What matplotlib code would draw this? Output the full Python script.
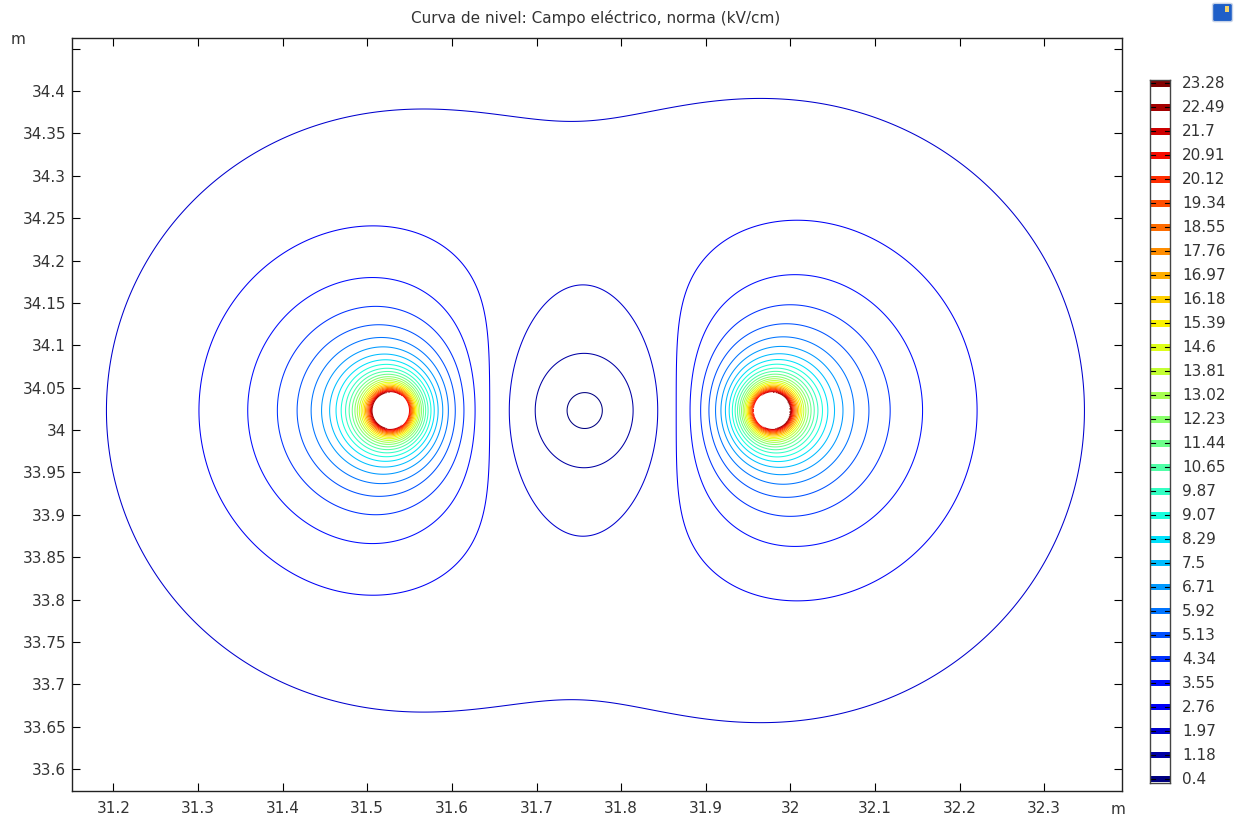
import numpy as np
import matplotlib
matplotlib.use("Agg")
import matplotlib.pyplot as plt
from matplotlib.colors import Normalize
from matplotlib.patches import FancyBboxPatch

# contour levels shown in the legend (kV/cm)
levels = [0.4, 1.18, 1.97, 2.76, 3.55, 4.34, 5.13, 5.92, 6.71, 7.5,
          8.29, 9.07, 9.87, 10.65, 11.44, 12.23, 13.02, 13.81, 14.6, 15.39,
          16.18, 16.97, 17.76, 18.55, 19.34, 20.12, 20.91, 21.7, 22.49, 23.28]

# two sub-conductors of the bundle (m) and their line-charge strength (kV/cm * m)
cond_x = [31.528, 31.978]
cond_y = [34.023, 34.023]
cond_r = [0.0215, 0.0215]
cond_k = [0.482, 0.482]
# field coming from the rest of the line, roughly uniform here (kV/cm)
bg_field = [0.077, 0.0]

xticks = [31.2, 31.3, 31.4, 31.5, 31.6, 31.7, 31.8, 31.9, 32.0, 32.1, 32.2, 32.3]
xtick_labels = ["31.2", "31.3", "31.4", "31.5", "31.6", "31.7", "31.8", "31.9",
                "32", "32.1", "32.2", "32.3"]
yticks = [33.6, 33.65, 33.7, 33.75, 33.8, 33.85, 33.9, 33.95, 34.0,
          34.05, 34.1, 34.15, 34.2, 34.25, 34.3, 34.35, 34.4, 34.45]
ytick_labels = ["33.6", "33.65", "33.7", "33.75", "33.8", "33.85", "33.9", "33.95", "34",
                "34.05", "34.1", "34.15", "34.2", "34.25", "34.3", "34.35", "34.4", ""]

xlim = (31.1508, 32.3918)
ylim = (33.574, 34.463)


def field_norm(X, Y):
    """ |E| of the two line charges plus the background field """
    Z = X + 1j * Y
    F = np.zeros_like(Z)
    inside = np.zeros(X.shape, dtype=bool)
    for cx, cy, r, k in zip(cond_x, cond_y, cond_r, cond_k):
        d = Z - (cx + 1j * cy)
        F += k / d
        inside |= np.abs(d) < r
    Ex = F.real + bg_field[0]
    Ey = -F.imag + bg_field[1]
    E = np.hypot(Ex, Ey)
    return np.ma.masked_where(inside, E)


xs = np.linspace(xlim[0], xlim[1], 2500)
ys = np.linspace(ylim[0], ylim[1], 1800)
X, Y = np.meshgrid(xs, ys)
E = field_norm(X, Y)

text_col = "#333333"
fs = 11
cmap = plt.get_cmap("jet")
norm = Normalize(levels[0], levels[-1])

fig = plt.figure(figsize=(12.39, 8.18), dpi=100)
ax = fig.add_axes([0.05787, 0.0330, 0.8477, 0.9209])
ax.contour(X, Y, E, levels=levels, cmap=cmap, norm=norm, linewidths=0.75)
ax.set_xlim(*xlim)
ax.set_ylim(*ylim)
ax.set_xticks(xticks)
ax.set_xticklabels(xtick_labels)
ax.set_yticks(yticks)
ax.set_yticklabels(ytick_labels)
ax.tick_params(direction="in", length=5.5, width=0.8, top=True, right=True,
               labelsize=fs, labelcolor=text_col)
ax.tick_params(axis="x", pad=7)
ax.tick_params(axis="y", pad=4)
for s in ax.spines.values():
    s.set_linewidth(1.0)
    s.set_color("#222222")

fig.text(0.481, 1 - 18 / 818, "Curva de nivel: Campo eléctrico, norma (kV/cm)",
         ha="center", va="center", fontsize=fs, color=text_col)
fig.text(18 / 1239, 1 - 40 / 818, "m", ha="center", va="center", fontsize=fs, color=text_col)
fig.text(1118 / 1239, 1 - 810 / 818, "m", ha="center", va="center", fontsize=fs, color=text_col)

# legend column with one coloured bar per level
cax = fig.add_axes([0.9282, 0.04315, 0.01614, 0.8590])
cax.set_xlim(0, 1)
cax.set_ylim(-0.154, len(levels) - 1 + 0.14)
for i, v in enumerate(levels):
    cax.axhspan(i - 0.14, i + 0.14, color=cmap(norm(v)), lw=0)
    cax.plot([0, 0.25], [i, i], color="k", lw=0.8)
    cax.plot([0.75, 1], [i, i], color="k", lw=0.8)
    cax.text(1.6, i, f"{v:g}", ha="left", va="center", fontsize=fs, color=text_col)
cax.set_xticks([])
cax.set_yticks([])
for s in cax.spines.values():
    s.set_linewidth(1.0)
    s.set_color("#444444")

# small toolbar icon in the corner
icon = FancyBboxPatch((1215 / 1239, 1 - 20 / 818), 15 / 1239, 15 / 818,
                      boxstyle="round,pad=0.002", transform=fig.transFigure,
                      facecolor="#1f5fc8", edgecolor="#c8d4e8", lw=1.0)
fig.patches.append(icon)
corner = FancyBboxPatch((1225 / 1239, 1 - 12 / 818), 4 / 1239, 6 / 818,
                        boxstyle="square,pad=0", transform=fig.transFigure,
                        facecolor="#f2d36b", edgecolor="none")
fig.patches.append(corner)

fig.savefig("out.png", dpi=100)
